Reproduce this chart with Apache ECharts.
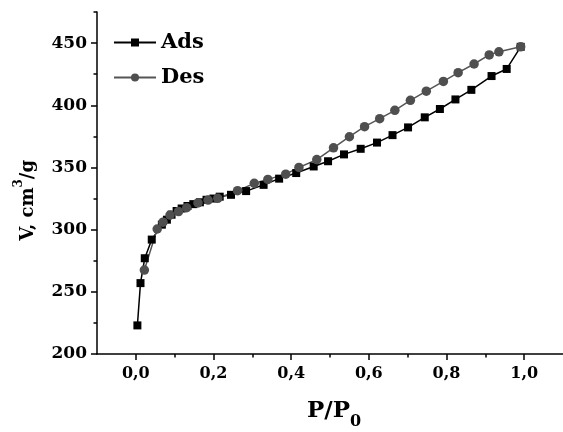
<!DOCTYPE html>
<html>
<head>
<meta charset="utf-8">
<script src="https://cdn.jsdelivr.net/npm/echarts@6/dist/echarts.min.js"></script>
<style>html,body{margin:0;padding:0;background:#fff}#c{width:563px;height:432px}</style>
</head>
<body>
<div id="c"></div>
<script>
// Adsorption branch
var adsP = [0.004, 0.012, 0.023, 0.041, 0.067, 0.080, 0.092, 0.105, 0.118, 0.133, 0.148, 0.165, 0.182, 0.200, 0.216, 0.245, 0.284, 0.329, 0.369, 0.413, 0.458, 0.495, 0.536, 0.579, 0.621, 0.661, 0.701, 0.744, 0.783, 0.823, 0.864, 0.916, 0.955, 0.991];
var adsV = [223, 257, 277, 292, 304, 308, 312, 315, 317, 319, 320.5, 322, 324, 325, 326.5, 328, 331, 336, 341, 345.5, 350.8, 355, 360.5, 365, 370, 376, 382.2, 390.3, 397, 404.7, 412.4, 423.5, 429.2, 447];
// Desorption branch
var desP = [0.991, 0.935, 0.910, 0.871, 0.830, 0.792, 0.748, 0.707, 0.667, 0.628, 0.589, 0.550, 0.509, 0.466, 0.420, 0.386, 0.340, 0.305, 0.262, 0.211, 0.186, 0.160, 0.131, 0.110, 0.088, 0.070, 0.055, 0.022];
var desV = [447, 443, 440.5, 433.2, 426.2, 419.2, 411.3, 404, 395.9, 389.2, 382.8, 374.7, 365.8, 356.3, 350, 344.6, 340.4, 337.2, 331.3, 325.2, 323.8, 321.5, 317.6, 314.5, 311.7, 306, 300.5, 267.5];
// Axis ticks
var xMajor = [0.0, 0.2, 0.4, 0.6, 0.8, 1.0];
var xMinor = [0.1, 0.3, 0.5, 0.7, 0.9];
var yMajor = [200, 250, 300, 350, 400, 450];
var yMinor = [225, 275, 325, 375, 425, 475];

function pairs(a, b) { return a.map(function (v, i) { return [v, b[i]]; }); }

var FF = '"DejaVu Serif", "Liberation Serif", serif';
var chart = echarts.init(document.getElementById('c'));
var axisLineStyle = { color: '#000', width: 1.5 };

chart.setOption({
  animation: false,
  backgroundColor: '#fff',
  grid: { left: 97, right: -6, top: 12, bottom: 78, containLabel: false },
  legend: {
    orient: 'vertical', left: 108, top: 27, itemWidth: 42, itemHeight: 10, itemGap: 14,
    textStyle: { fontFamily: FF, fontWeight: 'bold', fontSize: 21, color: '#000' },
    data: ['Ads', 'Des']
  },
  xAxis: [{
    type: 'value', min: -0.1, max: 1.1, position: 'bottom',
    axisLine: { show: true, onZero: false, lineStyle: axisLineStyle },
    axisTick: { show: true, inside: false, length: 6, lineStyle: axisLineStyle, customValues: xMajor },
    axisLabel: { customValues: xMajor, margin: 12, fontFamily: FF, fontWeight: 'bold', fontSize: 16, color: '#000',
      formatter: function (v) { return v.toFixed(1).replace('.', ','); } },
    splitLine: { show: false }
  }, {
    type: 'value', min: -0.1, max: 1.1, position: 'bottom', offset: 0,
    axisLine: { show: false, onZero: false },
    axisTick: { show: true, inside: false, length: 3.5, lineStyle: axisLineStyle, customValues: xMinor },
    axisLabel: { show: false },
    splitLine: { show: false }
  }],
  yAxis: [{
    type: 'value', min: 200, max: 475, position: 'left',
    axisLine: { show: true, onZero: false, lineStyle: axisLineStyle },
    axisTick: { show: true, inside: false, length: 6, lineStyle: axisLineStyle, customValues: yMajor },
    axisLabel: { customValues: yMajor, margin: 10, fontFamily: FF, fontWeight: 'bold', fontSize: 17, color: '#000' },
    splitLine: { show: false }
  }, {
    type: 'value', min: 200, max: 475, position: 'left', offset: 0,
    axisLine: { show: false, onZero: false },
    axisTick: { show: true, inside: false, length: 3.5, lineStyle: axisLineStyle, customValues: yMinor },
    axisLabel: { show: false },
    splitLine: { show: false }
  }],
  series: [{
    name: 'Ads', type: 'line', xAxisIndex: 0, yAxisIndex: 0,
    data: pairs(adsP, adsV),
    symbol: 'rect', symbolSize: 8,
    itemStyle: { color: '#000' },
    lineStyle: { color: '#000', width: 1.5 }
  }, {
    name: 'Des', type: 'line', xAxisIndex: 0, yAxisIndex: 0,
    data: pairs(desP, desV),
    symbol: 'circle', symbolSize: 9.5,
    itemStyle: { color: '#4f4f4f' },
    lineStyle: { color: '#555', width: 1.5 }
  }],
  graphic: [{
    type: 'text', left: 13, top: 160, rotation: Math.PI / 2,
    style: {
      text: '{n|V, cm}{s|3}{n|/g}',
      rich: {
        n: { fontFamily: FF, fontWeight: 'bold', fontSize: 18, lineHeight: 24, verticalAlign: 'bottom', fill: '#000' },
        s: { fontFamily: FF, fontWeight: 'bold', fontSize: 12, lineHeight: 24, verticalAlign: 'top', fill: '#000' }
      }
    }
  }, {
    type: 'text', left: 307, top: 400,
    style: {
      text: '{n|P/P}{s|0}',
      rich: {
        n: { fontFamily: FF, fontWeight: 'bold', fontSize: 23, lineHeight: 30, verticalAlign: 'top', fill: '#000' },
        s: { fontFamily: FF, fontWeight: 'bold', fontSize: 16, lineHeight: 30, verticalAlign: 'bottom', fill: '#000' }
      }
    }
  }]
});
</script>
</body>
</html>
